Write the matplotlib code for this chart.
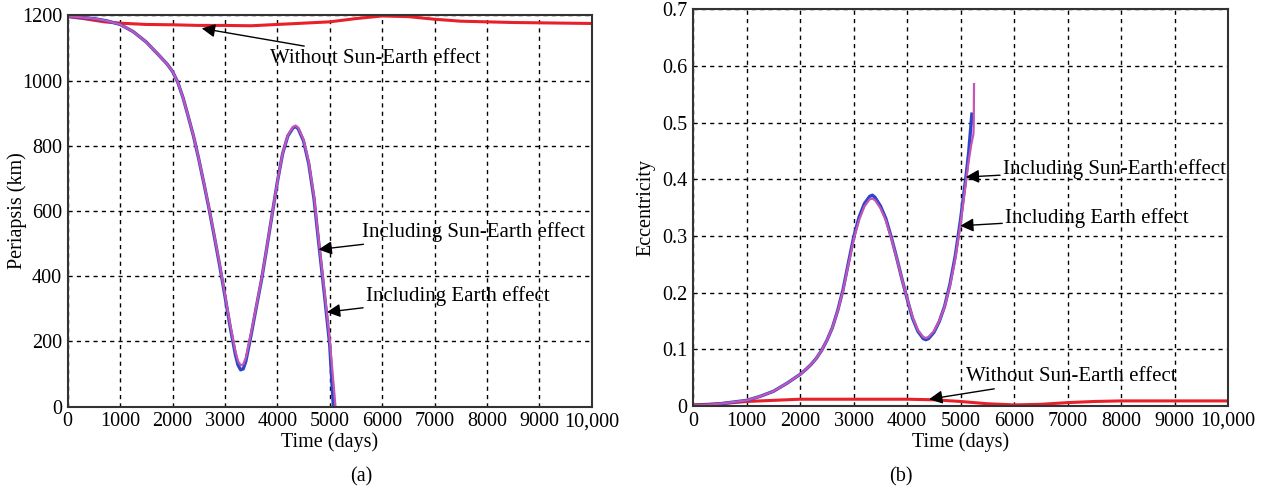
import numpy as np
import matplotlib
matplotlib.use("Agg")
from matplotlib import pyplot as plt

plt.rcParams['font.family'] = ['Liberation Serif', 'DejaVu Serif']

# ---- panel (a): periapsis (km) vs time (days)
t_peri = [0, 250, 500, 750, 1000, 1250, 1500, 1750, 1900, 2000, 2100, 2200, 2300,
          2400, 2500, 2600, 2700, 2800, 2900, 3000, 3100, 3200, 3250, 3300, 3350,
          3400, 3500, 3600, 3700, 3800, 3900, 4000, 4100, 4200, 4300, 4350, 4400,
          4500, 4600, 4700, 4800, 4900, 5000]
peri_sun_earth = [1197, 1194, 1190, 1183, 1172, 1150, 1118, 1076, 1050, 1028, 995, 948, 890,
                  830, 760, 684, 605, 520, 433, 340, 245, 160, 128, 113, 116,
                  140, 220, 306, 390, 488, 588, 688, 775, 830, 855, 859, 852,
                  815, 745, 638, 488, 343, 190]
peri_earth = [1197, 1194, 1190, 1183, 1172, 1150, 1118, 1076, 1050, 1028, 995, 948, 890,
              831, 761, 686, 607, 523, 437, 345, 252, 170, 140, 127, 130,
              150, 226, 309, 392, 489, 589, 688, 776, 832, 858, 862, 855,
              819, 750, 645, 497, 354, 205]
t_peri_end_se = [5070]
peri_end_se = [0]
t_peri_end_e = [5060, 5110]
peri_end_e = [95, 0]

t_peri_noSE = [0, 300, 700, 1000, 1500, 2000, 2500, 3000, 3500, 4000, 4500, 5000,
               5500, 6000, 6500, 7000, 7500, 8000, 8500, 9000, 9500, 10000]
peri_noSE = [1196, 1190, 1180, 1176, 1172, 1171, 1169, 1169, 1168, 1172, 1176, 1180,
             1190, 1198, 1196, 1188, 1182, 1180, 1178, 1177, 1176, 1175]

# ---- panel (b): eccentricity vs time (days)
t_ecc = [0, 250, 500, 750, 1000, 1250, 1500, 1750, 2000, 2100, 2200, 2300, 2400,
         2500, 2600, 2700, 2800, 2900, 3000, 3100, 3200, 3300, 3350, 3400, 3500,
         3600, 3700, 3800, 3900, 4000, 4100, 4200, 4300, 4350, 4400, 4500, 4600,
         4700, 4800, 4900, 5000, 5100, 5150]
ecc_sun_earth = [0.001, 0.002, 0.004, 0.007, 0.010, 0.017, 0.026, 0.040, 0.056, 0.064,
                 0.073, 0.084, 0.098, 0.116, 0.138, 0.168, 0.205, 0.252, 0.298, 0.333,
                 0.357, 0.370, 0.372, 0.368, 0.353, 0.331, 0.299, 0.263, 0.225, 0.189,
                 0.155, 0.132, 0.119, 0.117, 0.119, 0.130, 0.149, 0.176, 0.215, 0.265,
                 0.330, 0.405, 0.447]
ecc_earth = [0.001, 0.002, 0.004, 0.007, 0.010, 0.017, 0.026, 0.040, 0.056, 0.064,
             0.073, 0.084, 0.098, 0.116, 0.138, 0.167, 0.203, 0.249, 0.294, 0.328,
             0.352, 0.365, 0.366, 0.363, 0.349, 0.328, 0.297, 0.262, 0.225, 0.190,
             0.157, 0.134, 0.122, 0.120, 0.122, 0.132, 0.150, 0.175, 0.212, 0.260,
             0.323, 0.396, 0.432]
t_ecc_end_se = [5210]
ecc_end_se = [0.515]
t_ecc_end_e = [5200, 5240, 5245, 5250]
ecc_end_e = [0.462, 0.48, 0.50, 0.568]

t_ecc_noSE = [0, 500, 1000, 1500, 2000, 2500, 3000, 3500, 4000, 4500, 5000, 5500,
              6000, 6500, 7000, 7500, 8000, 8500, 9000, 9500, 10000]
ecc_noSE = [0.002, 0.004, 0.008, 0.010, 0.012, 0.012, 0.012, 0.012, 0.012, 0.011,
            0.008, 0.004, 0.002, 0.003, 0.006, 0.008, 0.009, 0.009, 0.009, 0.009, 0.009]

xticks = [0, 1000, 2000, 3000, 4000, 5000, 6000, 7000, 8000, 9000, 10000]
xticklabels = ['0', '1000', '2000', '3000', '4000', '5000', '6000', '7000', '8000', '9000', '10,000']

c_blue = '#2f45c8'
c_mag = '#c455b8'
c_red = '#e8202a'


def style_axes(ax):
    ax.set_xlim(0, 10000)
    ax.set_xticks(xticks)
    ax.set_xticklabels(xticklabels)
    ax.grid(True, color='black', linestyle=(0, (3, 3)), linewidth=1.0)
    ax.tick_params(direction='in', length=0, labelsize=14.5, pad=4)
    for s in ax.spines.values():
        s.set_color('#333333')
        s.set_linewidth(1.5)
    ax.set_xlabel('Time (days)', fontsize=14.5, labelpad=1)


arrow = dict(arrowstyle='-|>', color='black', lw=1.0, mutation_scale=20,
             shrinkA=0, shrinkB=0)

fig = plt.figure(figsize=(12.63, 4.88), dpi=100)

ax1 = fig.add_axes([0.0536, 0.1666, 0.4149, 0.802])
ax1.plot(t_peri_noSE, peri_noSE, color=c_red, lw=2.2)
ax1.plot(t_peri + t_peri_end_se, peri_sun_earth + peri_end_se, color=c_blue, lw=2.4)
ax1.plot(t_peri + t_peri_end_e, peri_earth + peri_end_e, color=c_mag, lw=1.6)
ax1.set_ylim(0, 1200)
ax1.set_yticks([0, 200, 400, 600, 800, 1000, 1200])
ax1.set_ylabel('Periapsis (km)', fontsize=14.5)
ax1.yaxis.set_label_coords(-0.078, 0.5)
style_axes(ax1)
ax1.annotate('Without Sun-Earth effect', xy=(2557, 1160), xytext=(3860, 1068),
             fontsize=15, va='center', ha='left', arrowprops=arrow)
ax1.annotate('Including Sun-Earth effect', xy=(4787, 482), xytext=(5610, 537),
             fontsize=15, va='center', ha='left', arrowprops=arrow)
ax1.annotate('Including Earth effect', xy=(4946, 290), xytext=(5690, 338),
             fontsize=15, va='center', ha='left', arrowprops=arrow)

ax2 = fig.add_axes([0.5489, 0.168, 0.4234, 0.813])
ax2.plot(t_ecc_noSE, ecc_noSE, color=c_red, lw=2.2)
ax2.plot(t_ecc + t_ecc_end_se, ecc_sun_earth + ecc_end_se, color=c_blue, lw=2.4)
ax2.plot(t_ecc + t_ecc_end_e, ecc_earth + ecc_end_e, color=c_mag, lw=1.6)
ax2.set_ylim(0, 0.7)
ax2.set_yticks([0, 0.1, 0.2, 0.3, 0.4, 0.5, 0.6, 0.7])
ax2.set_yticklabels(['0', '0.1', '0.2', '0.3', '0.4', '0.5', '0.6', '0.7'])
ax2.set_ylabel('Eccentricity', fontsize=14.5)
ax2.yaxis.set_label_coords(-0.070, 0.5)
style_axes(ax2)
ax2.annotate('Including Sun-Earth effect', xy=(5095, 0.404), xytext=(5790, 0.418),
             fontsize=15, va='center', ha='left', arrowprops=arrow)
ax2.annotate('Including Earth effect', xy=(4991, 0.318), xytext=(5830, 0.332),
             fontsize=15, va='center', ha='left', arrowprops=arrow)
ax2.annotate('Without Sun-Earth effect', xy=(4409, 0.012), xytext=(5100, 0.052),
             fontsize=15, va='center', ha='left', arrowprops=arrow)

fig.text(361 / 1263, 1 - 477 / 488, '(a)', fontsize=14.5, ha='center', va='center')
fig.text(901 / 1263, 1 - 477 / 488, '(b)', fontsize=14.5, ha='center', va='center')

fig.savefig('out.png', dpi=100)
